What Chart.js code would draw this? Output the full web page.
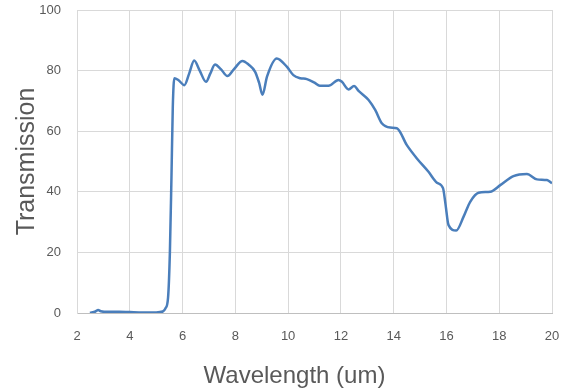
<!DOCTYPE html>
<html lang="en">
<head>
    <meta charset="UTF-8">
    <title>Transmission</title>
    <script src="https://cdn.jsdelivr.net/npm/chart.js@4.4.0/dist/chart.umd.min.js"></script>
    <style>
        html, body { margin: 0; padding: 0; background: #fff; }
        #wrap { width: 567px; height: 391px; }
    </style>
</head>
<body>
    <div id="wrap"><canvas id="chart"></canvas></div>

    <script>
        // wavelength in um, transmission in %
        var wavelength = [2.49, 2.7, 2.8, 2.9, 3.2, 3.6, 4.0, 4.5, 5.0, 5.25, 5.35, 5.45, 5.52, 5.58, 5.63, 5.69,
            5.85, 6.07, 6.25, 6.44, 6.65, 6.89, 7.05, 7.23, 7.45, 7.7, 7.95, 8.27, 8.5, 8.75, 8.9, 9.03, 9.2, 9.57,
            9.95, 10.2, 10.46, 10.71, 11.0, 11.2, 11.53, 11.91, 12.04, 12.29, 12.5, 12.67, 13.05, 13.3, 13.55,
            13.87, 14.12, 14.5, 14.88, 15.32, 15.64, 15.87, 15.96, 16.08, 16.37, 16.65, 16.9, 17.22, 17.66,
            18.04, 18.54, 19.05, 19.43, 19.81, 20.0];
        var transmission = [0, 0.5, 1.0, 0.6, 0.4, 0.4, 0.3, 0.2, 0.2, 0.5, 1.5, 5, 20, 45, 68, 77.5,
            76.8, 75.2, 79, 83.3, 80, 76.3, 79, 82, 80.5, 78.2, 80.5, 83.2, 82, 79.6, 76, 72, 78, 84,
            81.3, 78.5, 77.5, 77.2, 76, 75, 75, 76.9, 76.3, 73.8, 74.9, 73.3, 70.3, 67, 62.6,
            61.2, 61, 55.4, 51, 46.6, 43, 41.2, 36.2, 29, 27.2, 31.8, 36.7, 39.7, 40,
            42.2, 45.2, 45.9, 44.1, 43.9, 42.8];
        var xTicks = [2, 4, 6, 8, 10, 12, 14, 16, 18, 20];
        var yTicks = [0, 20, 40, 60, 80, 100];

        var points = wavelength.map(function(w, i) { return { x: w, y: transmission[i] }; });

        var font = "'Liberation Sans', Arial, sans-serif";
        var ctx = document.getElementById('chart').getContext('2d');
        new Chart(ctx, {
            type: 'line',
            data: {
                datasets: [{
                    data: points,
                    borderColor: '#4a7ebb',
                    borderWidth: 2.5,
                    pointRadius: 0,
                    fill: false,
                    cubicInterpolationMode: 'monotone'
                }]
            },
            options: {
                responsive: true,
                maintainAspectRatio: false,
                animation: false,
                layout: { padding: { top: 10, right: 15, left: 0, bottom: 0 } },
                plugins: { legend: { display: false }, tooltip: { enabled: false } },
                scales: {
                    x: {
                        type: 'linear',
                        min: 2, max: 20,
                        afterBuildTicks: function(scale) { scale.ticks = xTicks.map(function(v) { return { value: v }; }); },
                        afterFit: function(scale) {
                            scale.height = 78;
                            scale.paddingLeft = 0;
                            scale.paddingRight = 0;
                        },
                        grid: { color: '#d9d9d9', lineWidth: 1, drawTicks: false },
                        border: { color: '#bfbfbf', width: 1 },
                        ticks: { color: '#595959', font: { family: font, size: 13 }, padding: 16, maxRotation: 0 },
                        // trailing spaces nudge the centred title left, as in the original
                        title: { display: true, text: 'Wavelength (um)      ', color: '#595959', font: { family: font, size: 24 }, padding: { top: 14, bottom: 0 } }
                    },
                    y: {
                        min: 0, max: 100,
                        afterBuildTicks: function(scale) { scale.ticks = yTicks.map(function(v) { return { value: v }; }); },
                        afterFit: function(scale) {
                            scale.width = 77;
                            scale.paddingTop = 0;
                            scale.paddingBottom = 0;
                        },
                        grid: { color: '#d9d9d9', lineWidth: 1, drawTicks: false },
                        border: { color: '#d9d9d9', width: 1 },
                        ticks: { color: '#595959', font: { family: font, size: 13 }, padding: 16 },
                        title: { display: true, text: 'Transmission', color: '#595959', font: { family: font, size: 25 }, padding: { top: 12, bottom: 4 } }
                    }
                }
            }
        });
    </script>
</body>
</html>
